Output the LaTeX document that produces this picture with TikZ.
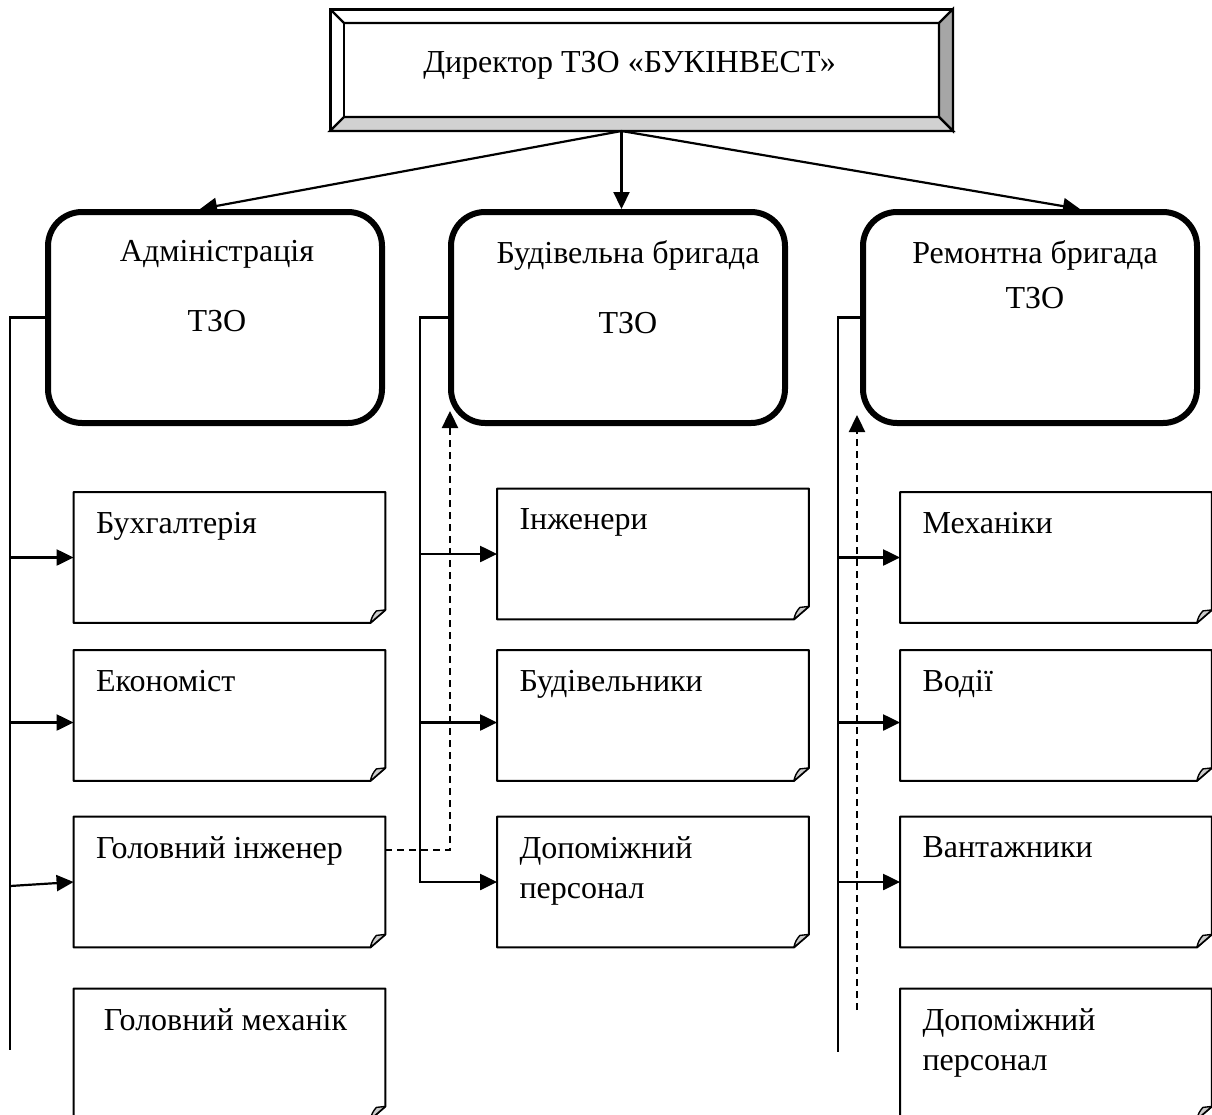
\documentclass[tikz,border=0pt]{standalone}
\usepackage{fontspec}
\setmainfont{Liberation Serif}
\newfontfamily\orgfont{Liberation Serif}
\usetikzlibrary{arrows.meta, calc}
\definecolor{bevelright}{gray}{0.65}
\definecolor{bevelbottom}{gray}{0.82}
\definecolor{foldgray}{gray}{0.8}
\tikzset{
    chief/.style={draw, line width=1pt, fill=white, minimum width=310.5pt, minimum height=60pt, inner sep=0pt},
    unit/.style={draw, line width=3pt, rounded corners=17pt, minimum width=167pt, minimum height=105.5pt, inner sep=0pt},
    note/.style={minimum width=155.5pt, minimum height=65pt, inner sep=0pt},
    notebox/.style={draw, line width=1pt, line join=round},
    fold/.style={draw, fill=foldgray, line width=0.7pt, line join=round},
    txt/.style={font=\orgfont\fontsize{16pt}{20pt}\selectfont, inner sep=0pt},
    link/.style={line width=1.1pt},
    arr/.style={line width=1.1pt, -{Triangle[length=8.5pt, width=8pt]}},
    dasharr/.style={line width=1.2pt, dash pattern=on 3.5pt off 2.5pt, -{Triangle[length=8.5pt, width=8pt]}}
}
\begin{document}
\begin{tikzpicture}[x=0.5pt, y=-0.5pt]
    \useasboundingbox (0,0) rectangle (1212,1115);

    % director
    \node[chief] (dir) at (641.5,70) {};
    \coordinate (dirnw) at ($(dir.north west)+(14,14)$);
    \coordinate (dirne) at ($(dir.north east)+(-14,14)$);
    \coordinate (dirse) at ($(dir.south east)+(-14,-14)$);
    \coordinate (dirsw) at ($(dir.south west)+(14,-14)$);
    \filldraw[link, fill=bevelright] (dir.north east) -- (dir.south east) -- (dirse) -- (dirne) -- cycle;
    \filldraw[link, fill=bevelbottom] (dir.south west) -- (dir.south east) -- (dirse) -- (dirsw) -- cycle;
    \draw[link] (dir.north west) -- (dirnw) -- (dirne);
    \draw[link] (dirnw) -- (dirsw);
    \draw[link] (dir.north west) rectangle (dir.south east);
    \node[txt] (dir-t) at ($(dir.center)+(-12,-5)$) {Директор ТЗО «БУКІНВЕСТ»};

    % departments
    \node[unit] (adm) at (215,317.5) {};
    \node[unit] (bud) at (618,317.5) {};
    \node[unit] (rem) at (1030,317.5) {};
    \node[txt, anchor=north, align=center] (adm-t) at ($(adm.north)+(2,31)$) {Адміністрація\\[15pt]ТЗО};
    \node[txt, anchor=north, align=center] (bud-t) at ($(bud.north)+(10,31)$) {Будівельна бригада\\[15pt]ТЗО};
    \node[txt, anchor=north, align=center] (rem-t) at ($(rem.north)+(5,31)$) {Ремонтна бригада\\[2.5pt]ТЗО};

    \coordinate (dirb) at ($(dir.south)+(-20,0)$);
    \draw[arr] (dirb) -- ($(adm.north)+(-15,0)$);
    \draw[arr] (dirb) -- (dirb |- bud.north);
    \draw[arr] (dirb) -- ($(rem.north)+(50,0)$);

    % staff
    \node[note] (buh) at (229.5,557.5) {};
    \node[note] (eko) at (229.5,715.5) {};
    \node[note] (ginzh) at (229.5,882) {};
    \node[note] (gmeh) at (229.5,1054) {};
    \node[note] (inzh) at (653,554) {};
    \node[note] (budn) at (653,715.5) {};
    \node[note] (dopb) at (653,882) {};
    \node[note] (meh) at (1056,557.5) {};
    \node[note] (vod) at (1056,715.5) {};
    \node[note] (vant) at (1056,882) {};
    \node[note] (dopr) at (1056,1054) {};

    \foreach \n in {buh,eko,ginzh,gmeh,inzh,budn,dopb,meh,vod,vant,dopr} {
        \draw[notebox] (\n.north west) -- (\n.north east) -- ($(\n.south east)+(0,-13)$)
            -- ($(\n.south east)+(-15,0)$) -- (\n.south west) -- cycle;
        \draw[fold] ($(\n.south east)+(-15,0)$) -- ($(\n.south east)+(0,-13)$)
            -- ($(\n.south east)+(-9,-12)$) to[bend right=15] cycle;
    }
    \foreach \n/\t in {buh/Бухгалтерія, eko/Економіст, ginzh/Головний інженер,
        inzh/Інженери, budn/Будівельники, dopb/{Допоміжний\\персонал},
        meh/Механіки, vod/Водії, vant/Вантажники, dopr/{Допоміжний\\персонал}}
        \node[txt, anchor=north west, align=left] (\n-t) at ($(\n.north west)+(22,20)$) {\t};
    \node[txt, anchor=north west] (gmeh-t) at ($(gmeh.north west)+(30,20)$) {Головний механік};

    % subordination lines
    \coordinate (admend) at (10,1050);
    \draw[link] (adm.west) -| (admend);
    \draw[arr] (buh.west -| admend) -- (buh.west);
    \draw[arr] ($(eko.west -| admend)+(0,7)$) -- ($(eko.west)+(0,7)$);
    \draw[arr] ($(ginzh.west -| admend)+(0,4)$) -- (ginzh.west);

    \coordinate (budx) at (420,0);
    \draw[arr] (bud.west) -| (dopb.west -| budx) -- (dopb.west);
    \draw[arr] (inzh.west -| budx) -- (inzh.west);
    \draw[arr] ($(budn.west -| budx)+(0,7)$) -- ($(budn.west)+(0,7)$);

    \coordinate (remend) at (838,1052);
    \draw[link] (rem.west) -| (remend);
    \draw[arr] (meh.west -| remend) -- (meh.west);
    \draw[arr] ($(vod.west -| remend)+(0,7)$) -- ($(vod.west)+(0,7)$);
    \draw[arr] (vant.west -| remend) -- (vant.west);

    % functional links
    \draw[dasharr] ($(ginzh.east)+(0,-32)$) -| ($(bud.south west)+(2,-15)$);
    \coordinate (remd) at (857,1010);
    \draw[dasharr] (remd) -- ($(remd |- rem.south)+(0,-11)$);
\end{tikzpicture}
\end{document}
